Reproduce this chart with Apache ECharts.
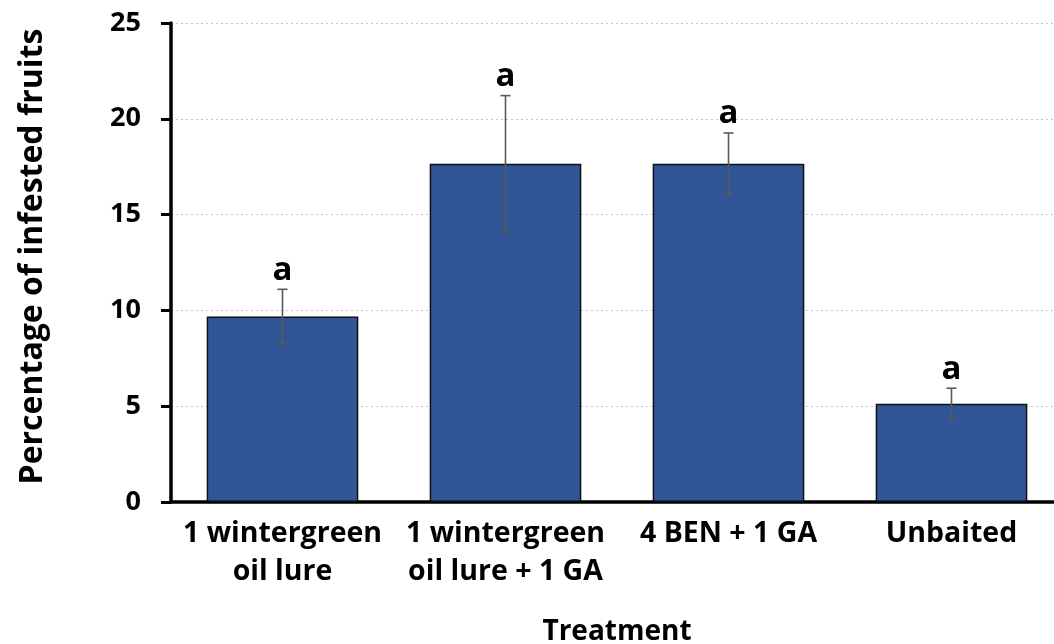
<!DOCTYPE html>
<html>
<head>
<meta charset="utf-8">
<script src="https://cdn.jsdelivr.net/npm/echarts@6/dist/echarts.min.js"></script>
<style>
html,body{margin:0;padding:0;background:#fff;}
#chart{width:1054px;height:644px;}
</style>
</head>
<body>
<div id="chart"></div>
<script>
const categories = ['1 wintergreen\noil lure', '1 wintergreen\noil lure + 1 GA', '4 BEN + 1 GA', 'Unbaited'];
const values = [9.68, 17.66, 17.66, 5.13];
const errors = [1.42, 3.55, 1.60, 0.81];
const letters = ['a', 'a', 'a', 'a'];
const yTicks = [0, 5, 10, 15, 20, 25];

const FONT = '"Open Sans", sans-serif';
const chart = echarts.init(document.getElementById('chart'), null, {renderer: 'canvas'});

const errData = values.map((v, i) => [i, v, errors[i], letters[i]]);

chart.setOption({
  animation: false,
  backgroundColor: '#ffffff',
  grid: {left: 171, right: -9, top: 23, bottom: 142, containLabel: false, outerBoundsMode: 'none'},
  xAxis: {
    type: 'category',
    data: categories,
    axisLine: {show: true, lineStyle: {color: '#000', width: 3.5}},
    axisTick: {show: false},
    axisLabel: {
      interval: 0, margin: 13,
      fontFamily: FONT, fontWeight: 'bold', fontSize: 28.5, color: '#000',
      lineHeight: 38, verticalAlign: 'top'
    },
    name: 'Treatment',
    nameLocation: 'middle',
    nameGap: 116,
    nameTextStyle: {fontFamily: FONT, fontWeight: 'bold', fontSize: 28, color: '#000', verticalAlign: 'top'}
  },
  yAxis: {
    type: 'value',
    min: yTicks[0], max: yTicks[yTicks.length - 1], interval: 5,
    axisLine: {show: true, lineStyle: {color: '#000', width: 3.5}},
    axisTick: {show: true, length: 10, inside: false, lineStyle: {color: '#000', width: 3}},
    axisLabel: {margin: 30, fontFamily: FONT, fontWeight: 'bold', fontSize: 27, color: '#000'},
    splitLine: {show: true, lineStyle: {color: '#c4c4c4', width: 1.2, type: [2, 3]}},
    name: 'Percentage of infested fruits',
    nameLocation: 'middle',
    nameGap: 122,
    nameTextStyle: {fontFamily: FONT, fontWeight: 'bold', fontSize: 32, color: '#000', padding: [0, 0, 0, 12]}
  },
  series: [
    {
      type: 'bar',
      data: values,
      barWidth: '68%',
      itemStyle: {color: '#2F5597', borderColor: '#111', borderWidth: 1.5},
      z: 2
    },
    {
      type: 'custom',
      data: errData,
      z: 5,
      renderItem: function (params, api) {
        const i = api.value(0), v = api.value(1), e = api.value(2);
        const top = api.coord([i, v + e]);
        const bot = api.coord([i, v - e]);
        const cap = 5;
        const st = {stroke: '#595959', lineWidth: 1.6};
        return {
          type: 'group',
          children: [
            {type: 'line', shape: {x1: top[0], y1: top[1], x2: bot[0], y2: bot[1]}, style: st},
            {type: 'line', shape: {x1: top[0] - cap, y1: top[1], x2: top[0] + cap, y2: top[1]}, style: st},
            {type: 'line', shape: {x1: bot[0] - cap, y1: bot[1], x2: bot[0] + cap, y2: bot[1]}, style: st},
            {type: 'text', style: {
              text: letters[params.dataIndex], x: top[0], y: top[1] - 19,
              align: 'center', verticalAlign: 'middle',
              font: 'bold 33px "Open Sans", sans-serif', fill: '#000'
            }}
          ]
        };
      }
    }
  ]
});
</script>
</body>
</html>
